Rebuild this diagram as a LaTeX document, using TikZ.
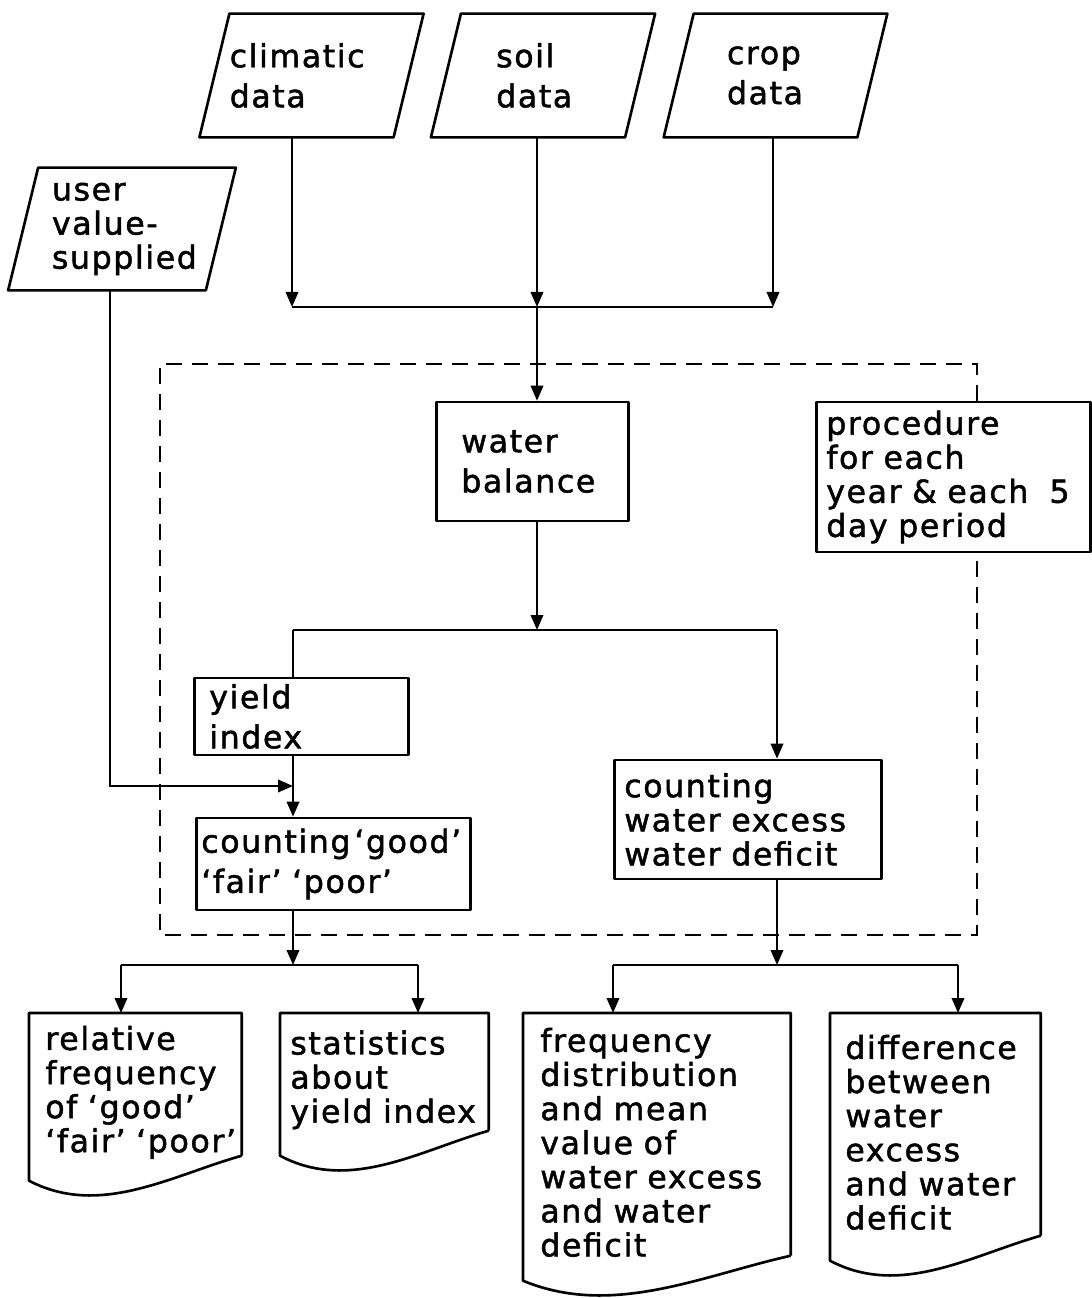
\documentclass[tikz,border=0pt]{standalone}
\usepackage{fontspec}
\setmainfont[LetterSpace=5,FakeBold=1.5]{DejaVu Sans}
\usetikzlibrary{arrows.meta,calc}

% outline of a slanted input box round an (undrawn) node
\newcommand\slantbox[1]{%
  \draw[outline] ($(#1.north west)+(0.3,0)$) -- ($(#1.north east)+(0.3,0)$)
    -- ($(#1.south east)-(0.3,0)$) -- ($(#1.south west)-(0.3,0)$) -- cycle;}
% outline of a document (wavy bottom) round an (undrawn) node
\newcommand\docbox[1]{%
  \coordinate (#1-se) at ($(#1.south east)+(0,0.32)$);
  \coordinate (#1-sw) at ($(#1.south west)+(0,0.32)$);
  \draw[outline] (#1-se) -- (#1.north east) -- (#1.north west)
    -- ($(#1-sw)+(0,-0.5)$)
    .. controls ($(#1-se)!0.667!(#1-sw)+(0,-1.24)$)
    and ($(#1-se)!0.333!(#1-sw)+(0,-0.4)$) .. (#1-se);}

\begin{document}
\begin{tikzpicture}[
    outline/.style={line width=1.5pt, line join=round},
    box/.style={draw, outline, inner ysep=0.05cm},
    txt/.style={font=\fontsize{18}{19.4}\selectfont, align=left, inner ysep=0.05cm},
    loose/.style={font=\fontsize{18}{22.8}\selectfont},
    conn/.style={line width=1.1pt},
    arr/.style={conn, -{Triangle[length=0.3cm,width=0.25cm]}},
    dashframe/.style={line width=1.1pt, dash pattern=on 0.32cm off 0.2cm}]
    \useasboundingbox (0,0) rectangle (21.82,-25.96);

    % input data
    \node[txt, loose, text width=3.27cm, inner xsep=0.3cm, minimum height=2.46cm] (climatic) at (6.23,-1.51) {climatic\\data};
    \node[txt, loose, text width=1.87cm, inner xsep=1cm, minimum height=2.46cm] (soil) at (10.86,-1.51) {soil\\data};
    \node[txt, loose, text width=1.94cm, inner xsep=0.96cm, minimum height=2.46cm] (crop) at (15.51,-1.51) {crop\\data};
    \node[txt, text width=2.8cm, inner xsep=0.57cm, minimum height=2.44cm] (user) at (2.44,-4.58) {user\\value-\\supplied};
    \slantbox{climatic} \slantbox{soil} \slantbox{crop} \slantbox{user}

    % procedure
    \node[box, txt, loose, anchor=west, text width=2.84cm, inner xsep=0.5cm, minimum height=2.38cm] (wb) at (8.7,-9.23) {water\\balance};
    \node[box, txt, anchor=west, text width=5.08cm, inner xsep=0.2cm, minimum height=3cm] (proc) at (16.3,-9.54) {procedure\\for~each\\year~\&~each~\ 5\\day~period};
    \node[box, txt, loose, anchor=west, text width=3.68cm, inner xsep=0.3cm, minimum height=1.54cm] (yield) at (3.86,-14.33) {yield\\index};
    \node[box, txt, loose, anchor=west, text width=5.28cm, inner xsep=0.1cm, minimum height=1.84cm] (cgood) at (3.9,-17.28) {counting\hspace{0.12em}`good'\\`fair'~`poor'};
    \node[box, txt, anchor=west, text width=4.94cm, inner xsep=0.2cm, minimum height=2.38cm] (cwater) at (12.26,-16.39) {counting\\water~excess\\water~deficit};

    % output
    \node[txt, anchor=north west, text width=3.6cm, inner xsep=0.32cm, inner ysep=0, minimum height=3.16cm] (rel) at (0.58,-20.26) {relative\\frequency\\of~`good'\\`fair'~`poor'};
    \node[txt, anchor=north west, text width=3.76cm, inner xsep=0.2cm, inner ysep=0, minimum height=2.66cm] (stat) at (5.6,-20.26) {statistics\\about\\yield~index};
    \node[txt, anchor=north west, text width=4.66cm, inner xsep=0.34cm, inner ysep=0, minimum height=5.16cm] (freq) at (10.46,-20.26) {frequency\\distribution\\and~mean\\value~of\\water~excess\\and~water\\deficit};
    \node[txt, anchor=north west, text width=3.6cm, inner xsep=0.3cm, inner ysep=0, minimum height=4.76cm] (diff) at (16.6,-20.26) {difference\\between\\water\\excess\\and~water\\deficit};
    \docbox{rel} \docbox{stat} \docbox{freq} \docbox{diff}

    % dashed frame
    \coordinate (f1) at (3.2,-7.28);
    \coordinate (f2) at (19.54,-18.7);
    \draw[dashframe] (proc.north -| f2) -- (f2 |- f1) -- (f1) -- (f1 |- f2) -- (f2) -- (proc.south -| f2);

    % data to water balance
    \coordinate (b1) at (5.84,-6.14);
    \coordinate (b2) at (10.74,-6.14);
    \coordinate (b3) at (15.46,-6.14);
    \draw[conn] (b1) -- (b3);
    \draw[arr] (climatic.south -| b1) -- (b1);
    \draw[arr] (soil.south -| b2) -- (b2);
    \draw[arr] (crop.south -| b3) -- (b3);
    \draw[arr] (b2) -- (wb.north -| b2);

    % water balance split
    \coordinate (s1) at (10.74,-12.6);
    \coordinate (s1l) at (5.86,-12.6);
    \coordinate (s1r) at (15.54,-12.6);
    \draw[arr] (wb.south -| s1) -- (s1);
    \draw[conn] (s1l) -- (s1r);
    \draw[conn] (s1l) -- (yield.north -| s1l);
    \draw[arr] (s1r) -- (cwater.north -| s1r);

    % user value
    \coordinate (u1) at (2.2,-15.72);
    \coordinate (j1) at (5.86,-15.72);
    \draw[arr] (user.south -| u1) -- (u1) -- (j1);
    \draw[arr] (yield.south -| j1) -- (cgood.north -| j1);

    % to the results
    \coordinate (s2) at (5.86,-19.3);
    \coordinate (s2l) at (2.42,-19.3);
    \coordinate (s2r) at (8.36,-19.3);
    \draw[arr] (cgood.south -| s2) -- (s2);
    \draw[conn] (s2l) -- (s2r);
    \draw[arr] (s2l) -- (rel.north -| s2l);
    \draw[arr] (s2r) -- (stat.north -| s2r);
    \coordinate (s3) at (15.54,-19.3);
    \coordinate (s3l) at (12.26,-19.3);
    \coordinate (s3r) at (19.16,-19.3);
    \draw[arr] (cwater.south -| s3) -- (s3);
    \draw[conn] (s3l) -- (s3r);
    \draw[arr] (s3l) -- (freq.north -| s3l);
    \draw[arr] (s3r) -- (diff.north -| s3r);
\end{tikzpicture}
\end{document}
